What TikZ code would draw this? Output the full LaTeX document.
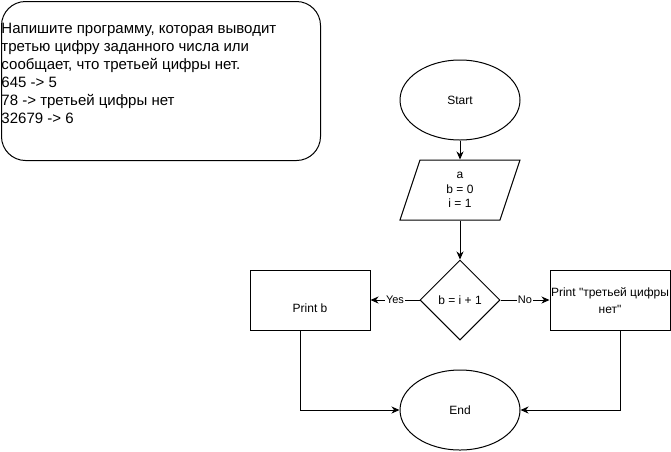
\documentclass[tikz,border=0pt]{standalone}
\usepackage{fontspec}
\setmainfont{Liberation Sans}
\usetikzlibrary{shapes.geometric,arrows.meta,calc}
\begin{document}
\begin{tikzpicture}[x=1pt,y=-1pt,line width=1pt,
  every node/.style={font=\fontsize{12}{14.4}\selectfont,inner sep=0pt,align=center},
  arr/.style={-{Stealth[length=8pt,width=7pt,inset=2.5pt]}},
  lbl/.style={fill=white,font=\fontsize{11}{13}\selectfont,inner sep=1pt},
  box/.style={draw,minimum width=120pt,minimum height=60pt},
  oval/.style={draw,ellipse,minimum width=120pt,minimum height=80pt}]
\useasboundingbox (0,0) rectangle (671,451);
% task description
\node[draw,rounded corners=24pt,minimum width=319pt,minimum height=159pt,anchor=north west] (task) at (1,1) {};
\node[anchor=west,align=left,font=\fontsize{15}{18}\selectfont] (tasktext) at (1,73) {Напишите программу, которая выводит\\третью цифру заданного числа или\\сообщает, что третьей цифры нет.\\645 -> 5\\78 -> третьей цифры нет\\32679 -> 6};
% flowchart
\node[oval] (start) at (460,100) {Start};
\node[minimum width=100pt,minimum height=60pt] (inp) at (460,190) {a\\b = 0\\i = 1};
\draw (400,220) -- (420,160) -- (520,160) -- (500,220) -- cycle;
\node[draw,diamond,minimum width=80pt,minimum height=80pt] (cond) at (460,300) {b = i + 1};
\node[box] (pb) at (310,300) {};
\node (pbt) at (310,308) {Print b};
\node[box] (pn) at (610,300) {};
\node[font=\fontsize{12}{17}\selectfont] (pnt) at (610,301) {Print \textquotedbl третьей цифры\\нет\textquotedbl};
\node[oval] (end) at (460,410) {End};
\coordinate (pbout) at ($(pb.south)+(-10,0)$);
\coordinate (pnout) at ($(pn.south)+(10,0)$);
% connectors
\draw[arr] (start) -- (inp);
\draw[arr] (inp) -- (cond);
\draw[arr] (cond) -- node[lbl] {Yes} (pb);
\draw[arr] (cond) -- node[lbl] {No} (pn);
\draw[arr] (pbout) |- (end);
\draw[arr] (pnout) |- (end);
\end{tikzpicture}
\end{document}
